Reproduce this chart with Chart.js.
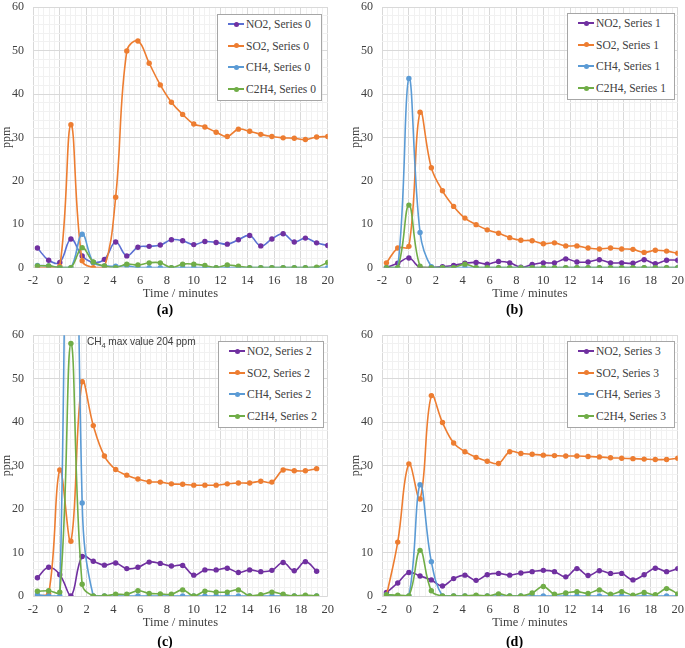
<!DOCTYPE html>
<html>
<head>
<meta charset="utf-8">
<script src="https://cdn.jsdelivr.net/npm/chart.js@4.4.1/dist/chart.umd.min.js"></script>
<style>
  html, body { margin: 0; padding: 0; background: #fff; }
  body { width: 685px; height: 648px; position: relative; overflow: hidden; }
  .panel { position: absolute; }
  .legend { position: absolute; background: #fff; border: 1px solid #a6a6a6; box-sizing: border-box;
            font-family: "Liberation Serif", "DejaVu Serif", serif; font-size: 11.5px; color: #404040; }
  .legend .row { position: absolute; left: 0; height: 14px; line-height: 14px; white-space: nowrap; }
  .legend .sw { position: absolute; left: 10px; top: 6px; width: 16px; height: 2px; }
  .legend .dot { position: absolute; left: 5.5px; top: -1.5px; width: 5px; height: 5px; border-radius: 50%; }
  .legend .txt { position: absolute; left: 28px; top: 0; }
  .note { position: absolute; font-family: "Liberation Sans", sans-serif; font-size: 10.2px; letter-spacing: -0.1px;
          color: #404040; white-space: nowrap; }
</style>
</head>
<body>
<script>
// time axis, minutes (one reading every 50 s)
const timeMin = [-1.67, -0.83, 0, 0.83, 1.67, 2.5, 3.33, 4.17, 5, 5.83, 6.67, 7.5, 8.33, 9.17,
                 10, 10.83, 11.67, 12.5, 13.33, 14.17, 15, 15.83, 16.67, 17.5, 18.33, 19.17, 20];

const gasNames = ["NO2", "SO2", "CH4", "C2H4"];
const captions = ["(a)", "(b)", "(c)", "(d)"];
const xTicksMajor = [-2, 0, 2, 4, 6, 8, 10, 12, 14, 16, 18, 20];
const yTicksMajor = [0, 10, 20, 30, 40, 50, 60];

// (a) Series 0
const no2A  = [4.5, 1.7, 1.2, 6.6, 2.7, 1.2, 1.9, 5.9, 2.7, 4.7, 4.9, 5.2, 6.4, 6.2, 5.3, 6.0, 5.8, 5.4, 6.4, 7.4, 5.0, 6.6, 7.8, 5.9, 6.8, 5.7, 5.1];
const so2A  = [0, 0, 0.3, 32.9, 1.6, 0, 0, 16.2, 49.9, 52.2, 47.1, 42.1, 38.1, 35.3, 33.1, 32.4, 31.2, 30.2, 31.9, 31.4, 30.7, 30.2, 29.9, 29.8, 29.5, 30.1, 30.2];
const ch4A  = [0.5, 0.4, 0, 0, 7.7, 1.2, 0.4, 0.3, 0.4, 0, 0, 0, 0, 0, 0, 0, 0, 0, 0, 0, 0, 0, 0, 0, 0, 0, 0];
const c2h4A = [0.4, 0.4, 0, 0, 4.6, 1.3, 0.4, 0, 0.8, 0.6, 1.1, 1.1, 0, 0.8, 0.8, 0.5, 0, 0.6, 0.3, 0, 0, 0, 0, 0, 0, 0.1, 1.2];

// (b) Series 1
const no2B  = [0, 1.0, 2.2, 0, 0, 0.2, 0.5, 1.0, 1.2, 0.8, 1.4, 1.1, 0.1, 0.7, 1.1, 1.1, 2.0, 1.3, 1.3, 1.8, 1.1, 1.1, 1.0, 1.8, 0.9, 1.7, 1.7];
const so2B  = [1.1, 4.5, 4.9, 35.8, 23.0, 17.7, 14.1, 11.4, 9.9, 8.7, 7.9, 6.9, 6.3, 6.2, 5.5, 5.7, 5.0, 5.0, 4.5, 4.3, 4.5, 4.3, 4.2, 3.5, 4.0, 3.8, 3.3];
const ch4B  = [0, 0, 43.6, 8.1, 0.2, 0, 0, 0, 0, 0, 0, 0, 0, 0, 0, 0, 0, 0, 0, 0, 0, 0, 0, 0, 0, 0, 0];
const c2h4B = [0, 0, 14.4, 0.3, 0, 0, 0, 0.8, 0, 0, 0, 0, 0, 0, 0, 0, 0, 0, 0, 0, 0, 0, 0, 0, 0, 0, 0];

// (c) Series 2 (stops at 19.17 min)
const no2C  = [4.2, 6.6, 4.9, 0, 9.1, 8.0, 7.1, 7.6, 6.3, 6.6, 7.8, 7.5, 6.9, 7.0, 4.8, 6.0, 6.0, 6.4, 5.4, 6.0, 5.6, 5.9, 7.7, 5.8, 7.9, 5.7];
const so2C  = [0, 0.5, 29.0, 12.6, 49.3, 39.2, 32.2, 29.1, 27.8, 26.9, 26.3, 26.2, 25.8, 25.7, 25.5, 25.5, 25.5, 25.8, 26.0, 26.0, 26.4, 26.2, 29.0, 28.8, 28.8, 29.3];
const ch4C  = [0.3, 0, 0, 204, 21.4, 0, 0, 0, 0, 0, 0, 0, 0, 0, 0, 0, 0, 0, 0, 0, 0, 0, 0, 0, 0, 0];
const c2h4C = [1.1, 1.2, 0.9, 58.1, 2.7, 0, 0, 0.4, 0.4, 1.2, 0.6, 0.5, 0.4, 1.4, 0, 1.1, 0.9, 0.9, 1.4, 0, 0.3, 0.9, 0.4, 0, 0.2, 0];

// (d) Series 3
const no2D  = [0.8, 3.0, 5.4, 4.6, 3.7, 2.3, 4.0, 4.8, 3.6, 4.9, 5.2, 4.8, 5.3, 5.6, 5.9, 5.6, 4.4, 6.3, 4.7, 5.8, 5.2, 5.2, 3.7, 4.9, 6.4, 5.6, 6.3];
const so2D  = [0, 12.4, 30.4, 22.3, 46.1, 39.9, 35.2, 33.2, 31.9, 31.0, 30.5, 33.2, 32.8, 32.6, 32.4, 32.3, 32.2, 32.2, 32.1, 32.0, 31.8, 31.7, 31.6, 31.5, 31.4, 31.4, 31.7];
const ch4D  = [0.3, 0, 0, 25.6, 7.9, 0, 0, 0, 0, 0, 0, 0, 0, 0, 0, 0, 0, 0, 0, 0, 0, 0, 0, 0, 0, 0, 0];
const c2h4D = [0.3, 0.2, 0, 10.5, 1.2, 0, 0, 0, 0.2, 0, 0.5, 0, 0, 0.7, 2.2, 0.4, 0.7, 1.0, 0.6, 1.4, 0.4, 1.0, 0.2, 0.8, 0.3, 1.7, 0.5];

const markerColors = ["#7030a0", "#ed7d31", "#5b9bd5", "#70ad47"];
const SERIF = "'Liberation Serif', 'DejaVu Serif', serif";
const TEXT = "#404040";

// layout of the four panels (page px)
const panels = [
  { values: [no2A, so2A, ch4A, c2h4A], left: 0,   top: 0,   w: 340, h: 320, capGap: 0, padBottom: 1.6,
    no2Line: "#5a6fd3", legend: { x: 217, y: 14, w: 105, h: 87 } },
  { values: [no2B, so2B, ch4B, c2h4B], left: 349, top: 0,   w: 341, h: 320, capGap: 0, padBottom: 1.6,
    no2Line: "#7030a0", legend: { x: 567, y: 13, w: 108, h: 87 } },
  { values: [no2C, so2C, ch4C, c2h4C], left: 0,   top: 328, w: 340, h: 323, capGap: 4, padBottom: 0.2,
    no2Line: "#7030a0", legend: { x: 218, y: 341, w: 106, h: 87 } },
  { values: [no2D, so2D, ch4D, c2h4D], left: 349, top: 328, w: 341, h: 323, capGap: 4, padBottom: 0.2,
    no2Line: "#7030a0", legend: { x: 567, y: 341, w: 108, h: 87 } }
];

function isMajor(v, step) {
  return Math.abs(v / step - Math.round(v / step)) < 1e-6;
}

function buildLegend(p, idx, lineColors) {
  const box = document.createElement("div");
  box.className = "legend";
  Object.assign(box.style, { left: p.legend.x + "px", top: p.legend.y + "px", width: p.legend.w + "px", height: p.legend.h + "px" });
  gasNames.forEach((g, i) => {
    const row = document.createElement("div");
    row.className = "row";
    row.style.top = (2 + i * 21.7) + "px";
    row.innerHTML = `<span class="sw" style="background:${lineColors[i]}"><span class="dot" style="background:${markerColors[i]}"></span></span>` +
                    `<span class="txt">${g}, Series ${idx}</span>`;
    box.appendChild(row);
  });
  document.body.appendChild(box);
}

panels.forEach((p, idx) => {
  const div = document.createElement("div");
  div.className = "panel";
  div.style.left = p.left + "px";
  div.style.top = p.top + "px";
  const cv = document.createElement("canvas");
  cv.width = p.w;
  cv.height = p.h;
  div.appendChild(cv);
  document.body.appendChild(div);

  const lineColors = [p.no2Line, markerColors[1], markerColors[2], markerColors[3]];

  const datasets = gasNames.map((g, i) => ({
    label: `${g}, Series ${idx}`,
    data: p.values[i].map((v, k) => ({ x: timeMin[k], y: v })),
    borderColor: lineColors[i],
    backgroundColor: markerColors[i],
    pointBackgroundColor: markerColors[i],
    pointBorderWidth: 0,
    pointRadius: 2.7,
    borderWidth: 1.6,
    tension: 0.4,
    order: 4 - i
  }));

  new Chart(cv, {
    type: "line",
    data: { datasets },
    options: {
      responsive: false,
      animation: false,
      devicePixelRatio: 1,
      layout: { padding: { top: 7, right: 10, bottom: p.padBottom, left: 0 } },
      plugins: {
        legend: { display: false },
        tooltip: { enabled: false },
        title: {
          display: true, position: "bottom", text: captions[idx], color: "#000",
          font: { family: SERIF, size: 14, weight: "bold" },
          padding: { top: p.capGap, bottom: 0 }
        }
      },
      scales: {
        x: {
          type: "linear", min: xTicksMajor[0], max: xTicksMajor[xTicksMajor.length - 1],
          afterFit: s => { s.height = 34; },
          ticks: {
            stepSize: 0.4, autoSkip: false, maxRotation: 0, minRotation: 0, maxTicksLimit: 200,
            padding: 6, color: TEXT, font: { family: SERIF, size: 12.5 },
            callback: v => isMajor(v, 2) ? String(Math.round(v)) : ""
          },
          grid: { drawTicks: false, color: c => isMajor(c.tick.value, 2) ? "#d9d9d9" : "#f1f1f1" },
          border: { display: false },
          title: { display: true, text: "Time / minutes", color: TEXT, font: { family: SERIF, size: 12.5 }, padding: 0 }
        },
        y: {
          min: yTicksMajor[0], max: yTicksMajor[yTicksMajor.length - 1],
          afterFit: s => { s.width = 33; },
          ticks: {
            stepSize: 2, autoSkip: false, maxTicksLimit: 200,
            padding: 0, color: TEXT, font: { family: SERIF, size: 12 },
            callback: v => isMajor(v, 10) ? String(Math.round(v)) : ""
          },
          // invisible tick marks give the gap between labels and plot
          grid: { drawTicks: true, tickLength: 9, tickColor: "rgba(0,0,0,0)",
                  color: c => isMajor(c.tick.value, 10) ? "#d9d9d9" : "#f1f1f1" },
          border: { display: false },
          title: { display: true, text: "ppm", color: TEXT, font: { family: SERIF, size: 12 }, padding: 0 }
        }
      }
    }
  });

  buildLegend(p, idx, lineColors);
});

// note in panel (c)
const note = document.createElement("div");
note.className = "note";
note.style.left = "87px";
note.style.top = "336px";
note.innerHTML = "CH<sub style=\"font-size:7.5px\">4</sub> max value 204 ppm";
document.body.appendChild(note);
</script>
</body>
</html>
